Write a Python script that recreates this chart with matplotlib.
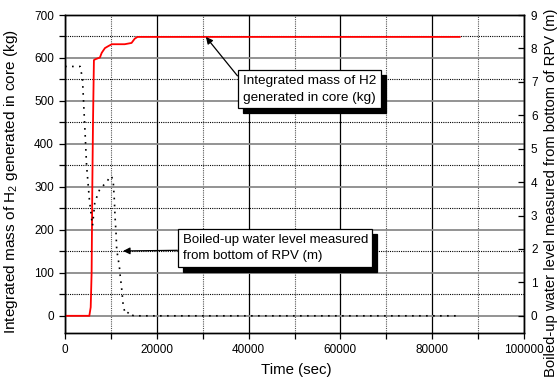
import matplotlib
matplotlib.use("Agg")
import matplotlib.pyplot as plt
import matplotlib.transforms as mtransforms
from matplotlib.ticker import MultipleLocator

plt.rcParams['font.family'] = ['Liberation Sans', 'DejaVu Sans']

# H2 mass (kg) vs time (sec)
h2_time = [0, 5300, 5600, 5800, 5950, 6100, 6300, 6600, 7600, 8000, 8700, 9500,
           10200, 13000, 14500, 15200, 15800, 86000]
h2_mass = [0, 0, 20, 100, 300, 450, 595, 597, 601, 612, 623, 628,
           632, 632, 635, 645, 649, 649]

# Boiled-up water level (m) vs time (sec)
wl_time = [0, 3300, 3800, 4400, 4700, 5300, 5800, 6000, 6500, 7600, 9100, 9800,
           10180, 10530, 10750, 10900, 11120, 11270, 11850, 12000, 12300, 12700,
           13100, 13500, 13900, 14300, 15000, 86000]
wl_level = [7.46, 7.46, 7.1, 5.4, 4.5, 3.5, 2.9, 2.7, 3.4, 3.8, 4.0, 4.17,
            4.17, 3.97, 3.47, 2.97, 2.47, 1.97, 1.47, 1.23, 0.88, 0.28,
            0.09, 0.05, 0.12, 0.04, 0.0, 0.0]

x_ticks = [0, 20000, 40000, 60000, 80000, 100000]
left_ticks = [0, 100, 200, 300, 400, 500, 600, 700]
right_ticks = [0, 1, 2, 3, 4, 5, 6, 7, 8, 9]

label_h2 = "Integrated mass of H2\ngenerated in core (kg)"
label_wl = "Boiled-up water level measured\nfrom bottom of RPV (m)"

fig = plt.figure(figsize=(5.57, 3.83), dpi=100)
ax = fig.add_axes([65/557, 1-333/383, 459/557, 318/383])
ax2 = ax.twinx()

ax.set_xlim(0, 100000)
ax.set_ylim(-40, 700)
ax2.set_ylim(-40*9/700, 9)

ax.set_xticks(x_ticks)
ax.set_xticklabels([str(v) for v in x_ticks])
ax.xaxis.set_minor_locator(MultipleLocator(10000))
ax.set_yticks(left_ticks)
ax.yaxis.set_minor_locator(MultipleLocator(50))
ax2.set_yticks(right_ticks)

# grids
ax.grid(which='major', axis='y', color='#8a8a8a', linewidth=1.3, linestyle='-')
ax.grid(which='minor', axis='y', color='black', linewidth=0.8, linestyle=(0, (1, 1)))
ax.grid(which='major', axis='x', color='black', linewidth=0.9, linestyle='-')
ax.grid(which='minor', axis='x', color='#555555', linewidth=0.8, linestyle=(0, (1, 1)))
ax.set_axisbelow(True)

ax.tick_params(axis='both', which='both', direction='out', length=4.5, width=0.9,
               labelsize=8.5, pad=3.5)
ax.tick_params(axis='y', which='both', right=False)
ax.tick_params(axis='x', which='both', top=False)
ax2.tick_params(axis='y', which='major', direction='in', length=4.3, width=0.9,
                labelsize=8.5, pad=5)
for sp in list(ax.spines.values()) + list(ax2.spines.values()):
    sp.set_linewidth(1.0)

ax.plot(h2_time, h2_mass, color='#ff0000', linewidth=1.3, zorder=3)
ax2.plot(wl_time, wl_level, color='black', linewidth=1.2, linestyle=(0, (1, 3.2)), zorder=3)

ax.set_xlabel("Time (sec)", fontsize=10.8)
ax.xaxis.set_label_coords(0.505, -0.095)
ax.set_ylabel("Integrated mass of H$\\mathregular{_2}$ generated in core (kg)", fontsize=11.1)
ax.yaxis.set_label_coords(-0.098, 0.475)
ax2.set_ylabel("Boiled-up water level measured from bottom of RPV (m)", fontsize=10.6)
ax2.yaxis.set_label_coords(1.044, 0.44)

# annotations with drop shadow
shadow = mtransforms.offset_copy(ax.transData, fig=fig, x=5, y=-5, units='dots')
shadow2 = mtransforms.offset_copy(ax2.transData, fig=fig, x=5, y=-5, units='dots')

bbox_w = dict(boxstyle='square,pad=0.35', fc='white', ec='black', lw=0.9)
bbox_s = dict(boxstyle='square,pad=0.35', fc='black', ec='black', lw=0.9)

ax.text(38700, 527, label_h2, transform=shadow, fontsize=9.7, color='black',
        va='center', ha='left', bbox=bbox_s, zorder=5, linespacing=1.5)
ax.annotate(label_h2, xy=(30700, 649), xytext=(38700, 527), fontsize=9.7,
            va='center', ha='left', bbox=bbox_w, zorder=6, linespacing=1.5,
            arrowprops=dict(arrowstyle='-|>', color='black', lw=0.9,
                            mutation_scale=10, relpos=(0, 0.75), shrinkA=0, shrinkB=0))

ax2.text(25600, 2.03, label_wl, transform=shadow2, fontsize=9.5, color='black',
         va='center', ha='left', bbox=bbox_s, zorder=5, linespacing=1.5)
ax2.annotate(label_wl, xy=(12650, 1.94), xytext=(25600, 2.03), fontsize=9.5,
             va='center', ha='left', bbox=bbox_w, zorder=6, linespacing=1.5,
             arrowprops=dict(arrowstyle='-|>', color='black', lw=0.9,
                             mutation_scale=10, relpos=(0, 0.42), shrinkA=0, shrinkB=0))

fig.savefig("out.png", dpi=100)
